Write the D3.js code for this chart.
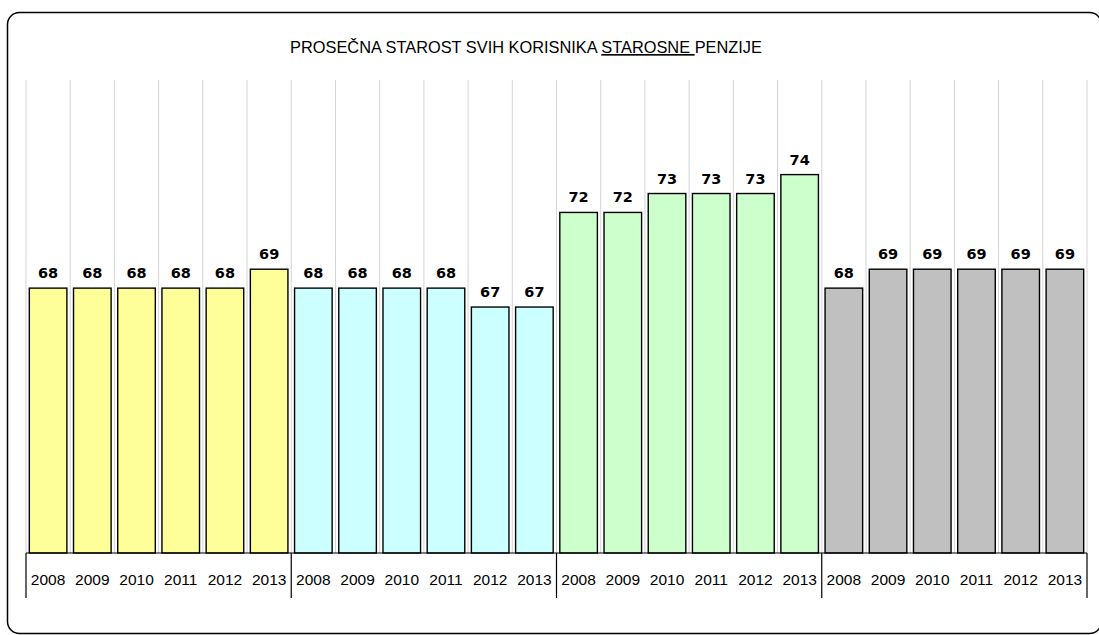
<!DOCTYPE html>
<html>
<head>
<meta charset="utf-8">
<script src="https://cdn.jsdelivr.net/npm/d3@7"></script>
<style>
  html, body { margin: 0; padding: 0; background: #fff; }
  svg { display: block; }
</style>
</head>
<body>
<svg id="chart" width="1099" height="635"></svg>
<script>
const titleMain = "PROSEČNA STAROST SVIH KORISNIKA ";
const titleUnder = "STAROSNE ";
const titleEnd = "PENZIJE";
const years = ["2008", "2009", "2010", "2011", "2012", "2013"];
const group1 = [68, 68, 68, 68, 68, 69];
const group2 = [68, 68, 68, 68, 67, 67];
const group3 = [72, 72, 73, 73, 73, 74];
const group4 = [68, 69, 69, 69, 69, 69];
const groupValues = [group1, group2, group3, group4];
const groupColors = ["#FFFF99", "#CCFFFF", "#CCFFCC", "#C0C0C0"];

const rows = [];
groupValues.forEach((vals, g) => {
  vals.forEach((v, i) => rows.push({ key: g + "-" + years[i], year: years[i], value: v, group: g }));
});

const svg = d3.select("#chart");
const plotLeft = 26, plotRight = 1087, plotTop = 80, plotBottom = 553;

// frame
svg.append("rect")
  .attr("x", 7.5).attr("y", 12.5)
  .attr("width", 1094).attr("height", 621)
  .attr("rx", 12).attr("ry", 12)
  .attr("fill", "#fff").attr("stroke", "#000").attr("stroke-width", 1.5);

const x = d3.scaleBand().domain(rows.map(d => d.key)).range([plotLeft, plotRight]).paddingInner(0.15).paddingOuter(0.075);
const y = d3.scaleLinear().domain([54, 79]).range([plotBottom, plotTop]);

// gridlines at band boundaries
const boundaries = d3.range(rows.length + 1).map(i => plotLeft + i * (plotRight - plotLeft) / rows.length);
svg.append("g").selectAll("line").data(boundaries).join("line")
  .attr("x1", d => d).attr("x2", d => d)
  .attr("y1", plotTop).attr("y2", plotBottom)
  .attr("stroke", "#d4d4d4").attr("stroke-width", 1);

// bars
svg.append("g").selectAll("rect").data(rows).join("rect")
  .attr("x", d => x(d.key)).attr("width", x.bandwidth())
  .attr("y", d => y(d.value)).attr("height", d => y(54) - y(d.value))
  .attr("fill", d => groupColors[d.group])
  .attr("stroke", "#000").attr("stroke-width", 1.4);

// value labels
svg.append("g").selectAll("text").data(rows).join("text")
  .attr("x", d => x(d.key) + x.bandwidth() / 2)
  .attr("y", d => y(d.value) - 10)
  .attr("text-anchor", "middle")
  .attr("font-family", "DejaVu Sans, Verdana, sans-serif")
  .attr("font-weight", "bold")
  .attr("font-size", 14.5)
  .attr("fill", "#000")
  .text(d => d.value);

// x axis
const xAxis = d3.axisBottom(x).tickSize(0).tickFormat(k => k.split("-")[1]);
const ax = svg.append("g").attr("transform", `translate(0,${plotBottom})`).call(xAxis);
ax.select(".domain").remove();
ax.selectAll("text")
  .attr("dy", null).attr("y", 32)
  .attr("font-family", "Liberation Sans, Arial, sans-serif")
  .attr("font-size", 15.5).attr("fill", "#000");
svg.append("line").attr("x1", plotLeft).attr("x2", plotRight).attr("y1", plotBottom).attr("y2", plotBottom)
  .attr("stroke", "#000").attr("stroke-width", 1.2);

// group separators
const seps = d3.range(groupValues.length + 1).map(g => boundaries[g * years.length]);
svg.append("g").selectAll("line").data(seps).join("line")
  .attr("x1", d => d).attr("x2", d => d)
  .attr("y1", plotBottom).attr("y2", 598)
  .attr("stroke", "#000").attr("stroke-width", 1.2);

// title
const title = svg.append("text")
  .attr("x", 526).attr("y", 53)
  .attr("text-anchor", "middle")
  .attr("xml:space", "preserve")
  .attr("font-family", "Liberation Sans, Arial, sans-serif")
  .attr("font-size", 15).attr("fill", "#000");
title.append("tspan").text(titleMain);
title.append("tspan").attr("text-decoration", "underline").text(titleUnder);
title.append("tspan").text(titleEnd);
const w = title.node().getComputedTextLength();
if (w > 0) title.attr("font-size", 15 * 472 / w);
</script>
</body>
</html>
